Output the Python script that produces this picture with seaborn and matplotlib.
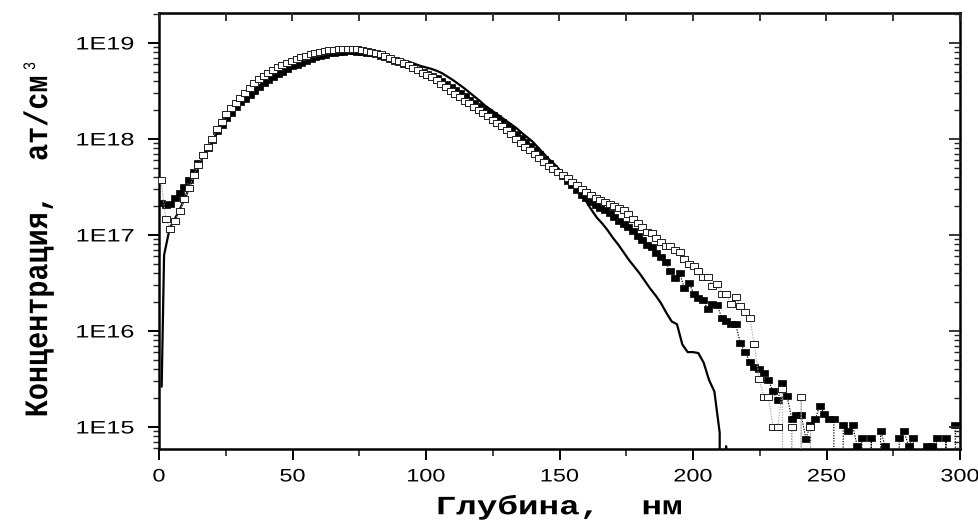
import numpy as np
import matplotlib
matplotlib.use("Agg")
import matplotlib.pyplot as plt
import seaborn as sns
from matplotlib.patheffects import AbstractPathEffect
from matplotlib.transforms import Affine2D
from matplotlib.ticker import (FixedLocator, FixedFormatter, MultipleLocator,
                               LogLocator, NullFormatter)

# ---------------------------------------------------------------- data
# Measured SIMS profiles share one depth grid (nm)
depth_start_nm = 0.75
depth_step_nm = 1.75
n_channels = 171

# log10 of concentration, at/cm^3; None = channel with no counts
log_conc_filled = [
    17.33, 17.31, 17.32, 17.38, 17.44, 17.50, 17.57, 17.66, 17.75, 17.83,
    17.91, 17.99, 18.08, 18.15, 18.22, 18.27, 18.33, 18.38, 18.42, 18.46,
    18.50, 18.54, 18.58, 18.61, 18.645, 18.68, 18.70, 18.73, 18.755, 18.775,
    18.795, 18.81, 18.83, 18.85, 18.865, 18.875, 18.89, 18.90, 18.905, 18.91,
    18.915, 18.915, 18.91, 18.905, 18.90, 18.89, 18.88, 18.865, 18.85, 18.835,
    18.815, 18.80, 18.78, 18.765, 18.745, 18.72, 18.70, 18.68, 18.655, 18.63,
    18.60, 18.57, 18.545, 18.51, 18.48, 18.445, 18.41, 18.375, 18.345, 18.31,
    18.28, 18.25, 18.215, 18.18, 18.14, 18.10, 18.05, 18.01, 17.965, 17.925,
    17.88, 17.84, 17.79, 17.745, 17.70, 17.655, 17.61, 17.565, 17.52, 17.47,
    17.42, 17.38, 17.34, 17.31, 17.28, 17.26, 17.23, 17.19, 17.15, 17.11,
    17.08, 17.04, 16.99, 16.95, 16.90, 16.87, 16.81, 16.77, 16.72, 16.62,
    16.55, 16.60, 16.45, 16.50, 16.39, 16.34, 16.32, 16.23, 16.28, 16.27,
    16.14, 16.10, 16.07, 16.07, 15.87, 15.78, 15.68, 15.63, 15.60, 15.56,
    15.49, 15.37, 15.28, 15.46, 15.32, 15.08, 15.13, 15.13, 14.88, 15.02,
    15.08, 15.22, 15.135, 15.08, 15.08, None, 15.02, 14.96, 15.02, 14.80,
    14.885, None, 14.885, None, 14.96, 14.80, None, None, 14.885, 14.96,
    14.80, 14.885, None, None, 14.80, 14.80, 14.885, None, 14.885, None,
    15.02,
]

log_conc_open = [
    17.57, 17.17, 17.06, 17.15, 17.25, 17.37, 17.49, 17.62, 17.73, 17.83,
    17.92, 18.00, 18.10, 18.18, 18.26, 18.32, 18.375, 18.43, 18.48, 18.53,
    18.58, 18.62, 18.655, 18.69, 18.72, 18.745, 18.77, 18.79, 18.81, 18.83,
    18.85, 18.865, 18.88, 18.895, 18.905, 18.915, 18.925, 18.93, 18.935, 18.94,
    18.94, 18.94, 18.935, 18.93, 18.92, 18.91, 18.895, 18.88, 18.865, 18.845,
    18.825, 18.81, 18.79, 18.765, 18.74, 18.715, 18.69, 18.665, 18.64, 18.615,
    18.575, 18.54, 18.50, 18.465, 18.435, 18.40, 18.37, 18.335, 18.30, 18.27,
    18.235, 18.20, 18.165, 18.13, 18.09, 18.05, 18.00, 17.96, 17.92, 17.88,
    17.84, 17.80, 17.76, 17.72, 17.69, 17.655, 17.62, 17.59, 17.555, 17.52,
    17.48, 17.45, 17.42, 17.39, 17.36, 17.34, 17.32, 17.30, 17.285, 17.26,
    17.22, 17.17, 17.12, 17.08, 17.03, 17.02, 16.97, 16.93, 16.88, 16.88,
    16.84, 16.82, 16.75, 16.70, 16.68, 16.62, 16.56, 16.56, 16.47, 16.49,
    16.39, 16.38, 16.28, 16.35, 16.26, 16.20, 16.14, 15.86, 15.50, 15.31,
    15.31, 15.00, 15.00, 15.40, None, 15.00, None, 15.31, None, 15.00,
    None, None, None, None, None, None, None, None, None, None,
    None, None, None, None, None, None, None, None, None, None,
    None, None, None, None, None, None, None, None, None, None,
    None,
]

# Calculated profile (solid line)
calc_depth_nm = [1.0, 1.9] + list(range(4, 212, 2)) + [210.7, 212.4, 213.5]
log_conc_calc = [
    15.42, 16.79,
    17.07, 17.17, 17.28, 17.40, 17.55, 17.68, 17.79, 17.89, 17.98, 18.07,
    18.16, 18.23, 18.30, 18.36, 18.41, 18.45, 18.49, 18.54, 18.58, 18.62,
    18.66, 18.69, 18.72, 18.745, 18.77, 18.79, 18.815, 18.835, 18.85, 18.865,
    18.88, 18.89, 18.90, 18.905, 18.91, 18.91, 18.905, 18.90, 18.89, 18.88,
    18.87, 18.855, 18.84, 18.83, 18.815, 18.80, 18.78, 18.76, 18.745, 18.73,
    18.71, 18.685, 18.65, 18.615, 18.575, 18.535, 18.49, 18.445, 18.40, 18.35,
    18.31, 18.27, 18.23, 18.19, 18.15, 18.11, 18.06, 18.015, 17.97, 17.91,
    17.85, 17.79, 17.74, 17.68, 17.62, 17.55, 17.48, 17.42, 17.35, 17.26,
    17.18, 17.12, 17.05, 16.97, 16.90, 16.82, 16.74, 16.67, 16.60, 16.52,
    16.44, 16.37, 16.29, 16.19, 16.10, 16.07, 15.86, 15.78, 15.78, 15.77,
    15.67, 15.49, 15.37, 14.94,
    None, 14.80, None,
]

x_ticks = [0, 50, 100, 150, 200, 250, 300]
x_tick_labels = ["0", "50", "100", "150", "200", "250", "300"]
y_ticks = [1e15, 1e16, 1e17, 1e18, 1e19]
y_tick_labels = ["1E15", "1E16", "1E17", "1E18", "1E19"]

x_label = "Глубина,  нм"
y_label = "Концентрация,  ат/см"
y_label_power = "3"


def to_conc(logs):
    """log10 values -> concentration; empty channels become zero."""
    return np.array([0.0 if v is None else 10.0 ** v for v in logs])


depth_nm = np.round(depth_start_nm + depth_step_nm * np.arange(n_channels), 2)
conc_filled = to_conc(log_conc_filled)
conc_open = to_conc(log_conc_open)
conc_calc = to_conc(log_conc_calc)


# ------------------------------------------------------- text styling
class GlyphStretch(AbstractPathEffect):
    """Draw text glyphs widened along (sx) or across (sy) the baseline."""

    def __init__(self, sx=1.0, sy=1.0, anchor="center"):
        super().__init__()
        self.sx, self.sy, self.anchor = sx, sy, anchor

    def draw_path(self, renderer, gc, tpath, affine, rgbFace=None):
        ext = tpath.get_extents()
        if self.anchor == "right":
            px = ext.x1
        elif self.anchor == "left":
            px = ext.x0
        else:
            px = 0.5 * (ext.x0 + ext.x1)
        py = 0.5 * (ext.y0 + ext.y1)
        stretch = (Affine2D().translate(-px, -py)
                   .scale(self.sx, self.sy).translate(px, py))
        renderer.draw_path(gc, tpath, stretch + affine, rgbFace)


sns.set_theme(style="ticks")
plt.rcParams["font.family"] = ["Liberation Sans", "DejaVu Sans"]

fig = plt.figure(figsize=(9.79, 5.24), dpi=100)
fig.patch.set_facecolor("white")
ax = fig.add_axes([159 / 979, 1 - 449 / 524, 801 / 979, 436 / 524])
ax.set_facecolor("white")

box = [(-1, -0.74), (1, -0.74), (1, 0.74), (-1, 0.74), (-1, -0.74)]

# calculated profile
sns.lineplot(x=calc_depth_nm, y=conc_calc, estimator=None, sort=False,
             color="black", linewidth=1.6, ax=ax, zorder=2)
# filled squares, black dotted connector
sns.lineplot(x=depth_nm, y=conc_filled, estimator=None, sort=False,
             color="black", linewidth=0.8, linestyle=(0, (1.2, 1.2)),
             marker=box, markersize=5.4, markerfacecolor="black",
             markeredgecolor="black", markeredgewidth=0.5, ax=ax, zorder=3)
# open squares, grey dotted connector
sns.lineplot(x=depth_nm, y=conc_open, estimator=None, sort=False,
             color="#a8a8a8", linewidth=0.8, linestyle=(0, (1.2, 1.2)),
             marker=box, markersize=5.4, markerfacecolor="white",
             markeredgecolor="#202020", markeredgewidth=0.7, ax=ax, zorder=4)

ax.set_yscale("log", nonpositive="clip")
ax.set_xlim(0, 300)
ax.set_ylim(5.9e14, 2.05e19)

ax.xaxis.set_major_locator(FixedLocator(x_ticks))
ax.xaxis.set_major_formatter(FixedFormatter(x_tick_labels))
ax.xaxis.set_minor_locator(MultipleLocator(25))
ax.yaxis.set_major_locator(FixedLocator(y_ticks))
ax.yaxis.set_major_formatter(FixedFormatter(y_tick_labels))
ax.yaxis.set_minor_locator(LogLocator(base=10, subs=np.arange(2, 10), numticks=20))
ax.yaxis.set_minor_formatter(NullFormatter())

ax.tick_params(axis="x", which="major", direction="out", length=8, width=1.4,
               labelsize=13, pad=6, colors="black")
ax.tick_params(axis="x", which="minor", direction="out", length=5, width=1.2)
ax.tick_params(axis="y", which="major", direction="out", length=8, width=1.4,
               labelsize=13, pad=10, colors="black")
ax.tick_params(axis="y", which="minor", direction="out", length=4, width=1.0)

for sp in ax.spines.values():
    sp.set_linewidth(1.8)
    sp.set_color("black")

# inward ticks on the top and right frame
ax_top = ax.twiny()
ax_top.set_xlim(0, 300)
ax_top.xaxis.set_major_locator(MultipleLocator(25))
ax_top.xaxis.set_major_formatter(NullFormatter())
ax_top.tick_params(axis="x", which="major", direction="in", length=6, width=1.3)
ax_right = ax.twinx()
ax_right.set_yscale("log")
ax_right.set_ylim(5.9e14, 2.05e19)
ax_right.yaxis.set_major_locator(FixedLocator(y_ticks))
ax_right.yaxis.set_major_formatter(NullFormatter())
ax_right.yaxis.set_minor_locator(LogLocator(base=10, subs=np.arange(2, 10), numticks=20))
ax_right.yaxis.set_minor_formatter(NullFormatter())
ax_right.tick_params(axis="y", which="major", direction="in", length=8, width=1.3)
ax_right.tick_params(axis="y", which="minor", direction="in", length=4, width=1.0)
for a in (ax_top, ax_right):
    for sp in a.spines.values():
        sp.set_visible(False)

for t in ax.xaxis.get_major_ticks():
    t.label1.set_fontfamily("Liberation Sans")
    t.label1.set_path_effects([GlyphStretch(sx=1.3)])
for t in ax.yaxis.get_major_ticks():
    t.label1.set_fontfamily("Liberation Sans")
    t.label1.set_path_effects([GlyphStretch(sx=1.4, anchor="right")])

label_font = dict(family="Liberation Mono", weight="bold", color="black")
ax.set_xlabel(x_label, va="center", size=19, **label_font,
              path_effects=[GlyphStretch(sx=1.3)])
ax.xaxis.set_label_coords(0.5, (449 - 507) / 436)
ax.set_ylabel(y_label, ha="center", va="center", size=20.5, **label_font,
              path_effects=[GlyphStretch(sy=1.15)])
ax.yaxis.set_label_coords((39 - 159) / 801, (449 - 246) / 436)
fig.text(30 / 979, 1 - 66 / 524, y_label_power, rotation=90, ha="center",
         va="center", family="Liberation Sans", size=10, color="black",
         path_effects=[GlyphStretch(sy=1.2)])

fig.savefig("out.png", dpi=100, facecolor="white")
